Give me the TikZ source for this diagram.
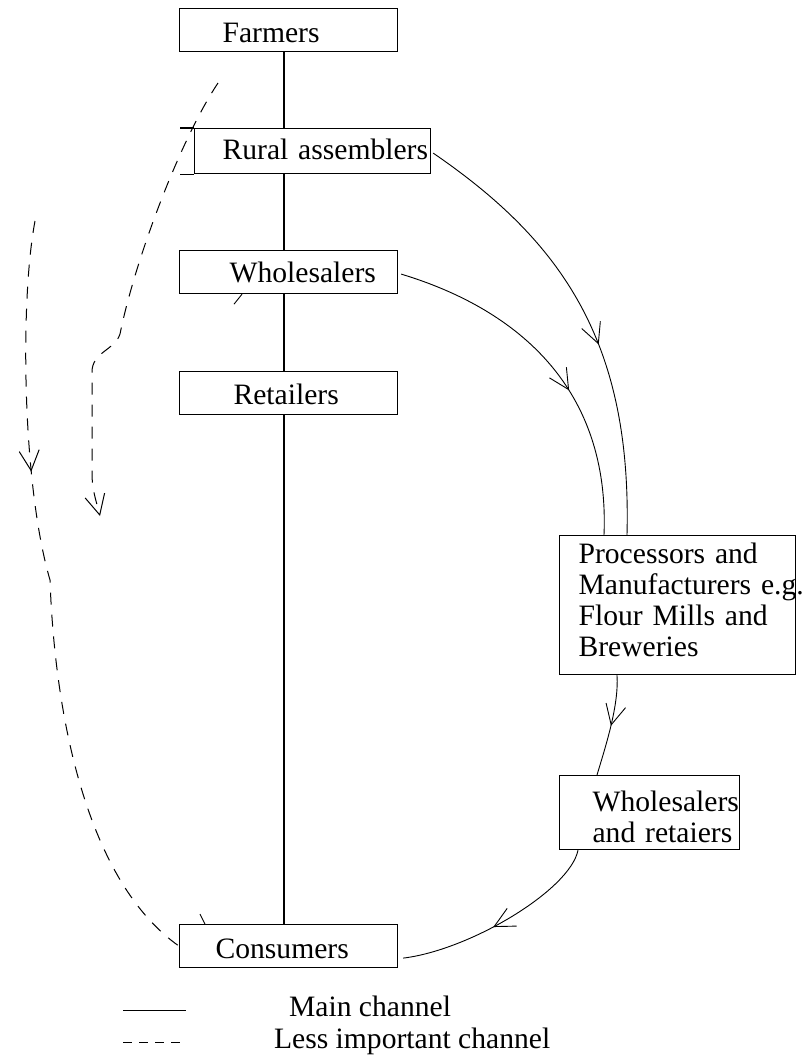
\documentclass[tikz,border=0pt]{standalone}
\usepackage{fontspec}
\setmainfont{Liberation Serif}
\usetikzlibrary{arrows.meta, decorations.markings, calc}
\hyphenpenalty=10000

\begin{document}
\begin{tikzpicture}[x=0.5pt, y=-0.5pt,
			stage/.style={draw, line width=0.6pt, anchor=north west, align=left, inner ysep=0pt, text height=14pt},
			mainline/.style={line width=1pt},
			flow/.style={line width=0.45pt},
			lessline/.style={line width=0.5pt, dash pattern=on 6pt off 5pt},
			barb/.style={-{Straight Barb[length=10pt,width=10pt]}},
			midarrow/.style={postaction={decorate, solid, decoration={markings, mark=at position #1 with {\arrow{Straight Barb[length=10pt,width=10pt]}}}}},
			font=\fontsize{14.8}{15.5}\selectfont]
			\useasboundingbox (0,0) rectangle (806,1057);
			% Kaesten
			\node[stage, minimum height=21.5pt, inner xsep=21.5pt, text width=66pt, text depth=1.5pt] (farmers) at (179,8) {Farmers};
			\node[stage, minimum height=22.5pt, inner xsep=14pt, text width=90pt, text depth=5.5pt] (rural) at (194,128) {Rural~assemblers};
			\node[stage, minimum height=21.5pt, inner xsep=25pt, text width=59pt, text depth=3.5pt] (whole) at (179,250) {Wholesalers};
			\node[stage, minimum height=21.5pt, inner xsep=27pt, text width=55pt, text depth=2.5pt] (retail) at (179,371) {Retailers};
			\node[stage, minimum height=21.5pt, inner xsep=18pt, text width=73pt, text depth=1.2pt] (consumers) at (179,924) {Consumers};
			\node[stage, minimum height=69.5pt, inner xsep=9.5pt, text width=99pt, text height=10pt, text depth=51.5pt] (proc) at (559,535)
				{Processors~and\\Manufacturers~e.g.\\Flour~Mills~and\\Breweries};
			\node[stage, minimum height=37pt, inner xsep=16.5pt, text width=57pt, text height=10pt, text depth=11pt] (wr) at (559,775)
				{Wholesalers\\and~retaiers};
			\draw[line width=0.6pt] (rural.north west) -- ++(-14,0) (rural.south west) -- ++(-14,0);
			% Hauptkanal
			\coordinate (spine) at (284,0);
			\foreach \a/\b in {farmers/rural, rural/whole, whole/retail, retail/consumers}
				\draw[mainline] (\a.south -| spine) -- (\b.north -| spine);
			% Verarbeitung
			\draw[flow, midarrow=0.57] ($(rural.east)+(2,2)$) .. controls (560,240) and (632,340) .. ($(proc.north west)+(68,0)$);
			\draw[flow, midarrow=0.58] ($(whole.east)+(3,2)$) .. controls (520,310) and (610,390) .. ($(proc.north west)+(45,0)$);
			\draw[flow, midarrow=0.5] ($(proc.south west)+(58,0)$) .. controls (619,705) and (606,745) .. ($(wr.north west)+(38,0)$);
			\draw[flow, midarrow=0.55] ($(wr.south west)+(19,0)$) .. controls (570,890) and (470,950) .. ($(consumers.east)+(5,12)$);
			% weniger wichtige Kanaele
			\coordinate (outerstart) at (35,221);
			\coordinate (innerstart) at (218,83);
			\draw[lessline, midarrow=0.33] (outerstart) .. controls (20,300) and (22,484) .. (50,580)
				.. controls (55,720) and (88,882) .. (consumers.west);
			\draw[lessline, barb] (innerstart) .. controls (180,140) and (135,260) .. (120,334)
				.. controls (115,350) and (92,352) .. (92,372) -- (92,473) .. controls (92,490) and (96,500) .. (100,516);
			\draw[flow] ($(whole.south west)+(63,0)$) -- ++(-8,10);
			\draw[flow] ($(consumers.north west)+(26,0)$) -- ++(-5,-10);
			% Legende
			\node[anchor=base west] (mainkey) at (282,1016) {Main channel};
			\node[anchor=base west] (lesskey) at (267,1048) {Less important channel};
			\draw[line width=0.5pt] (123,1010) -- (186,1010);
			\draw[lessline, dash pattern=on 4.5pt off 3.5pt] (123,1042) -- (180,1042);
		\end{tikzpicture}
\end{document}
